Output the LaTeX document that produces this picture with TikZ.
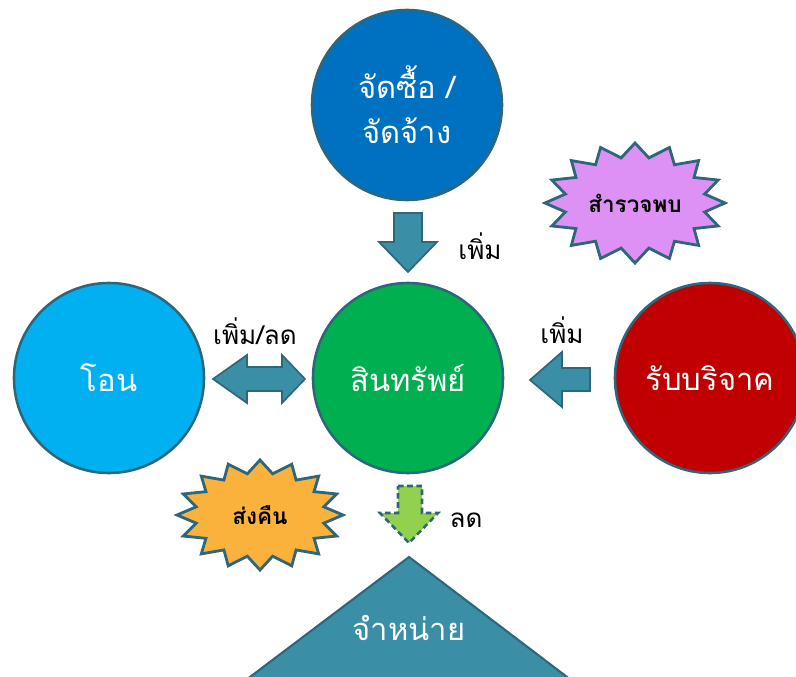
\documentclass[tikz,border=0pt]{standalone}
\usepackage{fontspec}
\newfontfamily\thaifont[Script=Thai]{Loma}
\definecolor{rim}{RGB}{46,102,122}
\definecolor{flowteal}{RGB}{58,142,166}
\definecolor{buyblue}{RGB}{0,112,192}
\definecolor{stockgreen}{RGB}{0,176,80}
\definecolor{loanblue}{RGB}{0,176,240}
\definecolor{giftred}{RGB}{192,0,0}
\definecolor{lilac}{RGB}{222,145,245}
\definecolor{peach}{RGB}{250,178,60}
\definecolor{lime}{RGB}{146,208,80}
\tikzset{
  circ/.style={circle, draw=rim, line width=1.8pt, minimum size=4.75cm, inner sep=0pt,
    text=white, align=center, font=\thaifont\fontsize{22}{32}\selectfont},
  lab/.style={font=\thaifont\fontsize{18.5}{20}\selectfont, inner sep=1pt},
  blockarrow/.style={draw=rim, line width=1.2pt, fill=flowteal, line join=miter},
  burst/.style={draw=rim, line width=2pt, line join=miter},
  burstlab/.style={font=\thaifont\bfseries\fontsize{16}{18}\selectfont, inner sep=1pt}
}
\begin{document}
\begin{tikzpicture}[x=0.025cm, y=-0.025cm]
\useasboundingbox (0,0) rectangle (796,677);
% circles:
\node (purchase) at (407,105) [circ, fill=buyblue] {จัดซื้อ /\\จัดจ้าง};
\node (stock) at (408,378) [circ, fill=stockgreen] {สินทรัพย์};
\node (loan) at (109,378) [circ, fill=loanblue] {โอน};
\node (donate) at (710,378) [circ, fill=giftred] {รับบริจาค};
% dispose triangle:
\draw[blockarrow, line width=1.5pt] (409,557) -- (571,680) -- (246,680) -- cycle;
\node (dispose) at (409,628) [circ, draw=none, minimum size=0pt] {จำหน่าย};
% bursts:
\draw[burst, fill=lilac, shift={(635,203)}] (0:90 and 60)
  \foreach \i in {0,...,15} {-- (\i*22.5+11.25:71 and 46) -- (\i*22.5+22.5:90 and 60)} -- cycle;
\node (found) at (635,203) [burstlab] {สำรวจพบ};
\draw[burst, fill=peach, shift={(260,515)}] (0:83 and 55)
  \foreach \i in {0,...,15} {-- (\i*22.5+11.25:65 and 42) -- (\i*22.5+22.5:83 and 55)} -- cycle;
\node (return) at (260,515) [burstlab] {ส่งคืน};
% block arrows:
\draw[blockarrow] (394,213) -- (422,213) -- (422,242) -- (437,242) -- (408,272)
  -- (379,242) -- (394,242) -- cycle;
\draw[blockarrow] (213,379) -- (247,355) -- (247,367) -- (282,367) -- (282,355)
  -- (305,379) -- (282,403) -- (282,391) -- (247,391) -- (247,403) -- cycle;
\draw[blockarrow] (530,380) -- (562,352) -- (562,368) -- (590,368) -- (590,391)
  -- (562,391) -- (562,407) -- cycle;
\draw[blockarrow, fill=lime, line width=1.8pt, dash pattern=on 4pt off 2.5pt] (398,486) -- (422,486)
  -- (422,513) -- (438,513) -- (409,543) -- (380,513) -- (398,513) -- cycle;
% labels:
\node (up1) at (480,246) [lab] {เพิ่ม};
\node (updown) at (255,331) [lab] {เพิ่ม/ลด};
\node (up2) at (562,330) [lab] {เพิ่ม};
\node (down) at (466,520) [lab] {ลด};
\end{tikzpicture}
\end{document}
